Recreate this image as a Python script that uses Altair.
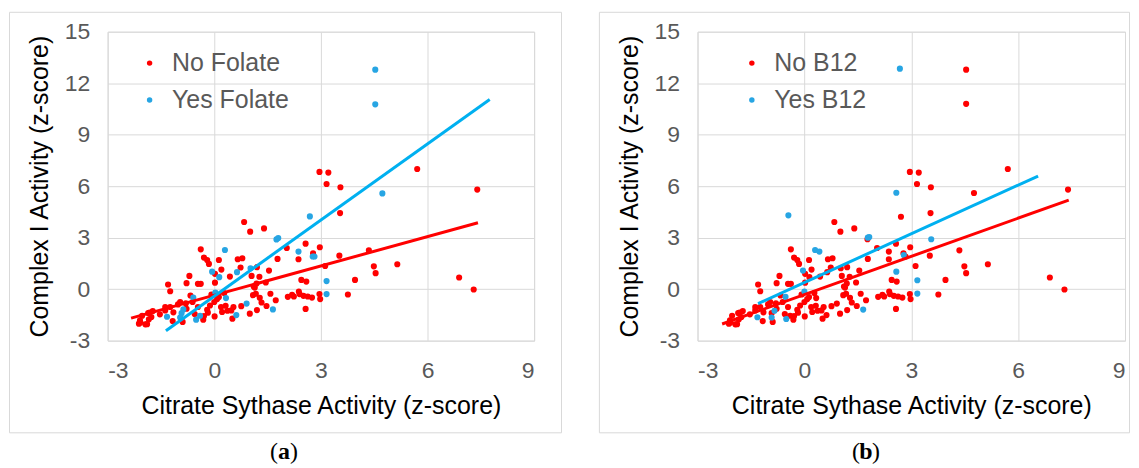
import altair as alt
import pandas as pd

# ---------------- data ----------------
# Panel (a)
a_red_x = [2.96, 3.21, 3.16, 3.55, 5.71, 7.40, 3.54, 0.84, 1.01, 1.40, -0.38, 2.04, 2.97, 2.57, 2.78,
           2.37, 1.78, 3.52, 4.35, 4.49, 4.54, 5.15, 3.96, 3.76, 6.89, 7.30, -0.29, -0.20, -0.15, 0.13,
           0.20, 0.02, -0.70, -0.78, -0.46, -0.38, -1.30, -1.24, 0.66, 0.79, 0.74, 1.20, 1.54, 1.27, 1.45,
           0.44, 1.11, 1.09, 1.17, 1.58, 2.07, 2.19, 2.24, 2.38, 2.40, 2.51, 2.63, 2.75, 2.96, 2.98,
           2.45, 2.59, 2.57, 1.73, 1.28, 1.33, 1.47, 1.20, 1.00, 0.76, 0.54, 0.48, 0.51, 0.37, 0.32,
           0.19, 0.22, 0.01, 0.00, -0.20, -0.18, -0.31, -0.29, -0.46, -0.61, -0.67, -0.80, -0.78, -0.96,
           -1.02, -0.89, -1.15, -1.24, -1.17, -1.38, -1.38, -1.73, -1.77, -1.86, -1.84, -1.94, -2.12,
           -2.09, -1.53, 0.08, 0.13, 0.28, -0.08, 3.12, 1.14, 1.19, 0.02, -1.82, -2.08, -1.89, -2.03,
           1.05, -0.55, -0.12]
a_red_y = [6.83, 6.79, 6.13, 5.94, 7.00, 5.80, 4.43, 3.91, 3.35, 3.54, 2.32, 2.40, 2.44, 2.65, 2.09,
           1.74, 1.76, 1.95, 2.26, 1.33, 0.93, 1.45, 0.54, -0.31, 0.68, -0.02, 1.84, 1.70, 1.47, 1.70,
           1.14, 0.89, 0.77, 0.35, 0.31, 0.31, 0.27, -0.12, 1.74, 1.80, 1.26, 1.28, 1.08, 0.72, 0.39,
           0.73, 0.15, -0.35, -0.27, -0.27, -0.45, -0.33, -0.43, -0.14, -0.29, -0.39, -0.43, -0.49, -0.29, -0.58,
           0.54, 0.44, -1.15, -0.65, -0.50, -0.78, -0.98, -1.22, -1.43, -0.99, -1.04, -1.24, -1.72, -1.26, -0.97,
           -1.04, -1.33, -1.59, -0.75, -1.20, -1.37, -1.78, -1.57, -1.04, -0.75, -0.37, -0.83, -1.14, -0.75,
           -0.89, -1.91, -1.35, -1.04, -1.86, -1.04, -1.24, -1.28, -1.62, -1.39, -1.76, -2.05, -2.01,
           -1.82, -1.47, -0.58, -0.46, -0.23, -0.31, 1.35, 0.09, 0.33, 0.38, -1.36, -1.94, -2.04, -1.55,
           0.77, -1.45, -0.95]
a_blue_x = [4.53, 4.53, 4.73, 2.69, 1.75, 1.80, 0.30, 2.37, 2.77, 2.82, -0.06, 0.14, 0.64, 1.02, 3.16,
            3.16, 1.65, 0.33, 0.03, 0.91, 0.62, -0.51, -0.40, -0.59, -0.87, -0.92, -1.33, -0.96]
a_blue_y = [12.79, 10.77, 5.58, 4.24, 2.90, 2.98, 2.28, 2.19, 1.90, 1.90, 1.02, 0.70, 0.99, 1.22, 0.47,
            -0.29, -1.18, -0.52, -0.20, -0.84, -1.51, -1.78, -1.55, -0.49, -1.18, -1.40, -1.61, -1.65]
a_line_red_x = [-2.34, 7.42]
a_line_red_y = [-1.69, 3.87]
a_line_blue_x = [-1.36, 7.75]
a_line_blue_y = [-2.42, 11.05]

# Panel (b): red = panel-a red points plus these
b_extra_red_x = [4.54, 4.54, 4.76, 2.71, 2.37, 2.84, 0.14, 0.64, 1.02, 0.33, 0.91, 0.62, -0.40, -0.92, 1.77]
b_extra_red_y = [12.79, 10.80, 5.60, 4.22, 2.19, 1.90, 0.70, 0.99, 1.22, -0.52, -0.84, -1.51, -1.55, -1.40, 2.91]
b_blue_x = [2.68, 2.58, -0.45, 1.78, 1.82, 0.30, 0.42, 3.56, 2.79, -0.04, 2.58, 3.17, 3.17, 1.65, 0.00,
            -0.53, -0.84, -0.51, -1.32, -0.92]
b_blue_y = [12.85, 5.62, 4.30, 3.00, 3.04, 2.28, 2.19, 2.91, 1.99, 1.08, 1.02, 0.52, -0.26, -1.19, -0.14,
            -0.45, -1.26, -1.74, -1.64, -1.65]
b_line_red_x = [-2.31, 7.42]
b_line_red_y = [-2.03, 5.19]
b_line_blue_x = [-1.30, 6.56]
b_line_blue_y = [-0.84, 6.59]

x_ticks = [-3, 0, 3, 6, 9]
y_ticks = [-3, 0, 3, 6, 9, 12, 15]
x_title = "Citrate Sythase Activity (z-score)"
y_title = "Complex I Activity (z-score)"

RED = "#ff0000"
BLUE_PT = "#27a5e3"
BLUE_LINE = "#00b0f0"
GRID = "#d9d9d9"
FONT = "Liberation Sans"


def panel(red_x, red_y, blue_x, blue_y, names, lred, lblue, letter, plot_w, box, cap_x, leg_x):
    pts = pd.DataFrame({
        "x": list(red_x) + list(blue_x),
        "y": list(red_y) + list(blue_y),
        "group": [names[0]] * len(red_x) + [names[1]] * len(blue_x),
    })
    xs = alt.Scale(domain=[-3, 9], nice=False, zero=False)
    ys = alt.Scale(domain=[-3, 15], nice=False, zero=False)
    xax = alt.Axis(values=x_ticks, labelExpr="'' + datum.value", grid=True, gridColor=GRID,
                   domain=False, ticks=False, labelFont=FONT, labelFontSize=23, labelColor="#595959",
                   labelPadding=19, titleFont=FONT, titleFontSize=25, titleFontWeight="normal",
                   titleColor="#000000", titleY=65, titleBaseline="middle")
    yax = alt.Axis(values=y_ticks, labelExpr="'' + datum.value", grid=True, gridColor=GRID,
                   domain=False, ticks=False, labelFont=FONT, labelFontSize=23, labelColor="#595959",
                   labelPadding=18, titleFont=FONT, titleFontSize=25, titleFontWeight="normal",
                   titleColor="#000000", titleX=-68, titleY=155, titleAngle=270,
                   titleBaseline="middle", titleAlign="center")

    box_df = pd.DataFrame({"k": [0]})
    frame = alt.Chart(box_df).mark_rect(fill="white", fillOpacity=0, stroke=GRID, strokeWidth=1).encode(
        x=alt.value(box[0]), x2=alt.value(box[1]), y=alt.value(box[2]), y2=alt.value(box[3]))

    points = alt.Chart(pts).mark_circle(size=38, opacity=1).encode(
        x=alt.X("x:Q", scale=xs, axis=xax, title=x_title),
        y=alt.Y("y:Q", scale=ys, axis=yax, title=y_title),
        color=alt.Color("group:N", scale=alt.Scale(domain=names, range=[RED, BLUE_PT]),
                        legend=alt.Legend(title=None, orient="none", legendX=leg_x, legendY=19,
                                          labelFont=FONT, labelFontSize=25, labelColor="#595959",
                                          symbolType="circle", symbolSize=30, symbolStrokeWidth=0,
                                          labelOffset=10, rowPadding=11, padding=0)),
    )
    lr = alt.Chart(pd.DataFrame({"x": lred[0], "y": lred[1]})).mark_line(
        color=RED, strokeWidth=3).encode(x=alt.X("x:Q", scale=xs), y=alt.Y("y:Q", scale=ys))
    lb = alt.Chart(pd.DataFrame({"x": lblue[0], "y": lblue[1]})).mark_line(
        color=BLUE_LINE, strokeWidth=3).encode(x=alt.X("x:Q", scale=xs), y=alt.Y("y:Q", scale=ys))

    cap_y = 422
    c1 = alt.Chart(box_df).mark_text(text="(", font="Liberation Serif", fontSize=24, align="right",
                                     baseline="middle", color="#000000").encode(
        x=alt.value(cap_x - 6), y=alt.value(cap_y))
    c2 = alt.Chart(box_df).mark_text(text=letter, font="Liberation Serif", fontSize=24, fontWeight="bold",
                                     align="center", baseline="middle", color="#000000").encode(
        x=alt.value(cap_x), y=alt.value(cap_y))
    c3 = alt.Chart(box_df).mark_text(text=")", font="Liberation Serif", fontSize=24, align="left",
                                     baseline="middle", color="#000000").encode(
        x=alt.value(cap_x + 6), y=alt.value(cap_y))

    return alt.layer(frame, points, lr, lb, c1, c2, c3).properties(width=plot_w, height=310)


pa = panel(a_red_x, a_red_y, a_blue_x, a_blue_y, ["No Folate", "Yes Folate"],
           (a_line_red_x, a_line_red_y), (a_line_blue_x, a_line_blue_y), "a",
           428, (-98.5, 455.5, -19.5, 402.5), 177, 29.6)
pb = panel(a_red_x + b_extra_red_x, a_red_y + b_extra_red_y, b_blue_x, b_blue_y, ["No B12", "Yes B12"],
           (b_line_red_x, b_line_red_y), (b_line_blue_x, b_line_blue_y), "b",
           429, (-98.5, 433.5, -19.5, 402.5), 169, 42)

chart = alt.hconcat(pa, pb, spacing=35).resolve_scale(
    color="independent", x="independent", y="independent"
).resolve_legend(color="independent").configure(
    padding={"left": 0, "top": 2, "right": 0, "bottom": 0}
).configure_view(stroke=GRID, strokeWidth=1)

chart.save("out.html", embed_options={"renderer": "svg", "actions": False})
